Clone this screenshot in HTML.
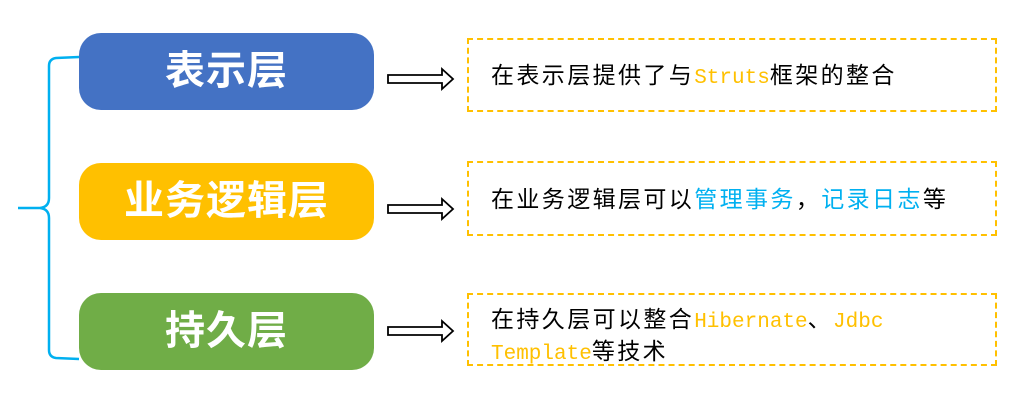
<!DOCTYPE html>
<html><head><meta charset="utf-8"><style>
body{margin:0;width:1030px;height:400px;background:#fff;position:relative;overflow:hidden;font-family:"Liberation Sans","Noto Sans CJK SC",sans-serif}
.l{position:absolute;left:79px;width:295px;height:77px;border-radius:22px;color:#fff;font-size:40px;text-align:center;line-height:77px;font-weight:bold;letter-spacing:1px}
.d{position:absolute;left:467px;width:530px;border:2px dashed #ffc000;box-sizing:border-box}
.t{position:absolute;left:491px;font-size:23px;letter-spacing:2.4px;color:#000;line-height:29px;white-space:nowrap}
.m{font-family:"Liberation Mono",monospace;font-size:21px;letter-spacing:0;color:#ffc000}
.b{color:#00b0f0}
</style></head><body>
<svg width="1030" height="400" style="position:absolute;left:0;top:0">
<path d="M79,57 L56,58 Q49,59 49,66 L49,198 Q49,207 40,208 L18,208 M40,208 Q49,209 49,218 L49,350 Q49,357 56,358 L79,359" fill="none" stroke="#00b0f0" stroke-width="2.5"/>
<g fill="#fff" stroke="#000" stroke-width="1.8">
<path d="M388,75 L442,75 L442,69 L453,79 L442,89 L442,83 L388,83 Z"/>
<path d="M388,205 L442,205 L442,199 L453,209 L442,219 L442,213 L388,213 Z"/>
<path d="M388,327 L442,327 L442,321 L453,331 L442,341 L442,335 L388,335 Z"/>
</g></svg>
<div class="l" style="top:33px;background:#4472c4">表示层</div>
<div class="l" style="top:163px;background:#ffc000">业务逻辑层</div>
<div class="l" style="top:293px;background:#70ad47">持久层</div>
<div class="d" style="top:38px;height:74px"></div>
<div class="d" style="top:161px;height:75px"></div>
<div class="d" style="top:293px;height:73px"></div>
<div class="t" style="top:61px">在表示层提供了与<span class="m">Struts</span>框架的整合</div>
<div class="t" style="top:185px">在业务逻辑层可以<span class="b">管理事务</span>，<span class="b">记录日志</span>等</div>
<div class="t" style="top:305px">在持久层可以整合<span class="m">Hibernate</span>、<span class="m">Jdbc</span><br><span class="m">Template</span>等技术</div>
</body></html>
